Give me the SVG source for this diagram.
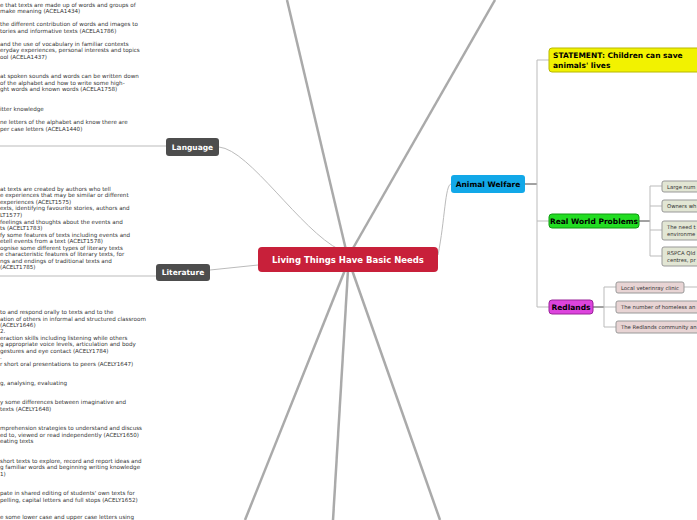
<svg xmlns="http://www.w3.org/2000/svg" width="697" height="520" viewBox="0 0 697 520">
<style>
.t{font-family:"DejaVu Sans",Verdana,sans-serif;font-size:5.6px;fill:#333}
.n{font-family:"DejaVu Sans",Verdana,sans-serif;font-weight:bold;font-size:7.5px}
.s{font-family:"DejaVu Sans",Verdana,sans-serif;font-size:5.3px;fill:#333}
.main{stroke:#aaa;stroke-width:2.5;fill:none}
.thin{stroke:#bbb;stroke-width:1;fill:none}
.dk{stroke:#444;stroke-width:1;fill:none}
</style>
<rect width="697" height="520" fill="#fff"/>
<g id="connectors">
<path class="main" d="M346 250 L287 0"/>
<path class="main" d="M352 250 L495 0"/>
<path class="main" d="M345 270 L245 520"/>
<path class="main" d="M348 270 L333 520"/>
<path class="main" d="M352 270 L440 520"/>
<path class="thin" d="M340 250 C300 230 250 150 219 147"/>
<path class="thin" d="M258 265 L210 270"/>
<path class="thin" d="M438 255 C445 220 445 185 451 184"/>
<path class="thin" d="M0 146 L166 146"/>
<path class="thin" d="M0 276 L156 276"/>
<path class="dk" d="M525 184 L537 184"/>
<path class="thin" d="M537 60 L537 307 M537 60 L549 60 M537 221 L549 221 M537 307 L549 307"/>
<path class="dk" d="M639 221 L650 221"/>
<path class="thin" d="M650 186 L650 256 M650 186 L662 186 M650 206 L662 206 M650 230 L662 230 M650 256 L662 256"/>
<path class="dk" d="M593 307 L604 307"/>
<path class="thin" d="M604 287 L604 327 M604 287 L616 287 M604 307 L616 307 M604 327 L616 327 M684 287 L697 287"/>
</g>
<g id="center"><rect x="258" y="247" width="180" height="25" rx="4" fill="#c8203a"/><text class="n" x="348" y="263" text-anchor="middle" fill="#fff" style="font-size:8.5px">Living Things Have Basic Needs</text></g>
<g id="language"><rect x="166" y="138" width="53" height="18" rx="3" fill="#4d4d4d"/><text class="n" x="192.5" y="150" text-anchor="middle" fill="#fff">Language</text></g>
<g id="literature"><rect x="156" y="264" width="54" height="17" rx="3" fill="#4d4d4d"/><text class="n" x="183" y="275" text-anchor="middle" fill="#fff">Literature</text></g>
<g id="animal-welfare"><rect x="451" y="175" width="74" height="18" rx="3" fill="#12a8e8"/><text class="n" x="488" y="187" text-anchor="middle" fill="#000">Animal Welfare</text></g>
<g id="statement"><rect x="549" y="48" width="155" height="24" rx="3" fill="#f2f200" stroke="#b8b800"/><text class="n" x="553" y="58" fill="#000">STATEMENT: Children can save</text><text class="n" x="553" y="68" fill="#000">animals' lives</text></g>
<g id="real-world"><rect x="549" y="214" width="90" height="14" rx="3" fill="#22dd22" stroke="#119911"/><text class="n" x="594" y="224" text-anchor="middle" fill="#000">Real World Problems</text></g>
<g id="redlands"><rect x="549" y="300" width="44" height="14" rx="3" fill="#dd44dd" stroke="#992299"/><text class="n" x="571" y="310" text-anchor="middle" fill="#000">Redlands</text></g>
<g id="rw1"><rect x="662" y="181" width="45" height="11" rx="2" fill="#e2e6d4" stroke="#999"/><text class="s" x="667" y="188.5">Large num</text></g>
<g id="rw2"><rect x="662" y="200" width="45" height="12" rx="2" fill="#e2e6d4" stroke="#999"/><text class="s" x="667" y="208">Owners wh</text></g>
<g id="rw3"><rect x="662" y="221" width="45" height="19" rx="2" fill="#e2e6d4" stroke="#999"/><text class="s" x="667" y="229">The need t</text><text class="s" x="667" y="236">environme</text></g>
<g id="rw4"><rect x="662" y="247" width="45" height="19" rx="2" fill="#e2e6d4" stroke="#999"/><text class="s" x="667" y="255">RSPCA Qld</text><text class="s" x="667" y="262">centres, pr</text></g>
<g id="rd1"><rect x="616" y="282" width="68" height="11" rx="2" fill="#e8d4d4" stroke="#999"/><text class="s" x="621" y="289.5">Local veterinray clinic</text></g>
<g id="rd2"><rect x="616" y="301" width="90" height="12" rx="2" fill="#e8d4d4" stroke="#999"/><text class="s" x="621" y="309">The number of homeless an</text></g>
<g id="rd3"><rect x="616" y="321" width="90" height="12" rx="2" fill="#e8d4d4" stroke="#999"/><text class="s" x="621" y="329">The Redlands community an</text></g>
<g id="left-texts">
<text class="t" x="0" y="7">e that texts are made up of words and groups of</text>
<text class="t" x="0" y="13">make meaning (ACELA1434)</text>
<text class="t" x="0" y="26">the different contribution of words and images to</text>
<text class="t" x="0" y="33">tories and informative texts (ACELA1786)</text>
<text class="t" x="0" y="46">and the use of vocabulary in familiar contexts</text>
<text class="t" x="0" y="52">eryday experiences, personal interests and topics</text>
<text class="t" x="0" y="59">ool (ACELA1437)</text>
<text class="t" x="0" y="78">at spoken sounds and words can be written down</text>
<text class="t" x="0" y="85">of the alphabet and how to write some high-</text>
<text class="t" x="0" y="91">ght words and known words (ACELA1758)</text>
<text class="t" x="0" y="111">itter knowledge</text>
<text class="t" x="0" y="124">ne letters of the alphabet and know there are</text>
<text class="t" x="0" y="131">per case letters (ACELA1440)</text>
<text class="t" x="0" y="191">at texts are created by authors who tell</text>
<text class="t" x="0" y="197">e experiences that may be similar or different</text>
<text class="t" x="0" y="204"> experiences (ACELT1575)</text>
<text class="t" x="0" y="210">exts, identifying favourite stories, authors and</text>
<text class="t" x="0" y="217">LT1577)</text>
<text class="t" x="0" y="224"> feelings and thoughts about the events and</text>
<text class="t" x="0" y="230">ts (ACELT1783)</text>
<text class="t" x="0" y="237">fy some features of texts including events and</text>
<text class="t" x="0" y="243">etell events from a text (ACELT1578)</text>
<text class="t" x="0" y="250">ognise some different types of literary texts</text>
<text class="t" x="0" y="256">e characteristic features of literary texts, for</text>
<text class="t" x="0" y="263">ngs and endings of traditional texts and</text>
<text class="t" x="0" y="269"> (ACELT1785)</text>
<text class="t" x="0" y="314">to and respond orally to texts and to the</text>
<text class="t" x="0" y="321">ation of others in informal and structured classroom</text>
<text class="t" x="0" y="327">(ACELY1646)</text>
<text class="t" x="0" y="333"> 2.</text>
<text class="t" x="0" y="340">eraction skills including listening while others</text>
<text class="t" x="0" y="346">g appropriate voice levels, articulation and body</text>
<text class="t" x="0" y="353">gestures and eye contact (ACELY1784)</text>
<text class="t" x="0" y="359">.</text>
<text class="t" x="0" y="366">r short oral presentations to peers (ACELY1647)</text>
<text class="t" x="0" y="385">g, analysing, evaluating</text>
<text class="t" x="0" y="404">y some differences between imaginative and</text>
<text class="t" x="0" y="411"> texts (ACELY1648)</text>
<text class="t" x="0" y="430">mprehension strategies to understand and discuss</text>
<text class="t" x="0" y="437">ed to, viewed or read independently (ACELY1650)</text>
<text class="t" x="0" y="443">eating texts</text>
<text class="t" x="0" y="463"> short texts to explore, record and report ideas and</text>
<text class="t" x="0" y="469">g familiar words and beginning writing knowledge</text>
<text class="t" x="0" y="476">1)</text>
<text class="t" x="0" y="495">pate in shared editing of students' own texts for</text>
<text class="t" x="0" y="502">pelling, capital letters and full stops (ACELY1652)</text>
<text class="t" x="0" y="519">e some lower case and upper case letters using</text>
</g>
</svg>
